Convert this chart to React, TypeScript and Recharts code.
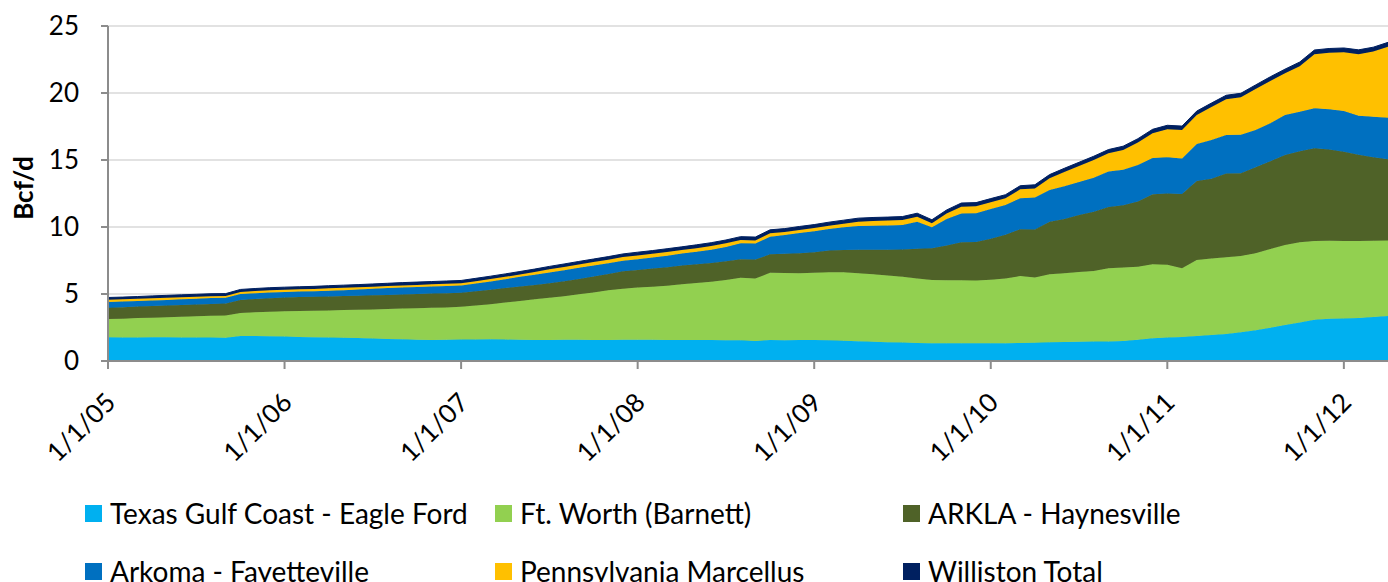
import React from 'react'
import { AreaChart, Area, XAxis, YAxis, CartesianGrid } from 'recharts'

// monthly, Jan 2005 .. Apr 2012
const months: string[] = []
for (let y = 5; y <= 12; y++) {
  for (let m = 1; m <= 12; m++) {
    if (y === 12 && m > 4) break
    months.push(`${m}/1/${String(y).padStart(2, '0')}`)
  }
}

const xTicks = ['1/1/05', '1/1/06', '1/1/07', '1/1/08', '1/1/09', '1/1/10', '1/1/11', '1/1/12']
const yTicks = [0, 5, 10, 15, 20, 25]

const texasGulfCoast = [
  1.77, 1.76, 1.76, 1.77, 1.77, 1.76, 1.76, 1.75, 1.73, 1.87, 1.86, 1.85,
  1.83, 1.80, 1.78, 1.76, 1.74, 1.72, 1.68, 1.65, 1.62, 1.58, 1.57, 1.58,
  1.60, 1.61, 1.62, 1.60, 1.58, 1.57, 1.57, 1.58, 1.58, 1.57, 1.57, 1.58,
  1.58, 1.58, 1.57, 1.56, 1.57, 1.56, 1.55, 1.54, 1.50, 1.56, 1.55, 1.56,
  1.56, 1.54, 1.52, 1.48, 1.44, 1.40, 1.38, 1.35, 1.33, 1.32, 1.32, 1.32,
  1.32, 1.33, 1.35, 1.37, 1.39, 1.41, 1.43, 1.45, 1.46, 1.49, 1.58, 1.70,
  1.75, 1.80, 1.86, 1.94, 2.02, 2.15, 2.30, 2.48, 2.68, 2.88, 3.08, 3.15,
  3.17, 3.20, 3.28, 3.36,
]

const ftWorth = [
  1.36, 1.40, 1.44, 1.46, 1.49, 1.54, 1.58, 1.63, 1.67, 1.71, 1.78, 1.83,
  1.88, 1.93, 1.97, 2.01, 2.06, 2.10, 2.17, 2.23, 2.29, 2.36, 2.40, 2.42,
  2.44, 2.53, 2.62, 2.76, 2.90, 3.03, 3.15, 3.26, 3.40, 3.55, 3.71, 3.82,
  3.90, 3.97, 4.05, 4.16, 4.25, 4.36, 4.49, 4.68, 4.65, 5.02, 5.01, 4.99,
  5.02, 5.08, 5.10, 5.07, 5.04, 4.98, 4.90, 4.80, 4.71, 4.71, 4.70, 4.68,
  4.74, 4.82, 4.99, 4.87, 5.08, 5.14, 5.21, 5.27, 5.46, 5.49, 5.46, 5.52,
  5.44, 5.12, 5.68, 5.70, 5.72, 5.69, 5.75, 5.87, 5.98, 5.98, 5.88, 5.82,
  5.78, 5.76, 5.70, 5.63,
]

const arkla = [
  0.85, 0.86, 0.86, 0.87, 0.88, 0.88, 0.88, 0.88, 0.90, 0.97, 0.98, 1.00,
  1.03, 1.05, 1.05, 1.05, 1.05, 1.05, 1.05, 1.05, 1.05, 1.06, 1.06, 1.06,
  1.06, 1.06, 1.08, 1.08, 1.08, 1.08, 1.08, 1.12, 1.14, 1.18, 1.22, 1.30,
  1.32, 1.35, 1.38, 1.40, 1.40, 1.40, 1.41, 1.38, 1.43, 1.38, 1.44, 1.49,
  1.54, 1.62, 1.66, 1.75, 1.82, 1.92, 2.04, 2.23, 2.37, 2.59, 2.84, 2.88,
  3.07, 3.27, 3.49, 3.58, 3.93, 4.05, 4.26, 4.42, 4.58, 4.64, 4.86, 5.23,
  5.31, 5.54, 5.89, 5.96, 6.26, 6.18, 6.40, 6.55, 6.71, 6.79, 6.91, 6.81,
  6.67, 6.44, 6.22, 6.06,
]

const arkoma = [
  0.42, 0.42, 0.42, 0.42, 0.42, 0.42, 0.43, 0.44, 0.42, 0.45, 0.44, 0.44,
  0.41, 0.40, 0.41, 0.42, 0.43, 0.46, 0.50, 0.52, 0.52, 0.52, 0.53, 0.54,
  0.54, 0.58, 0.62, 0.66, 0.72, 0.76, 0.80, 0.82, 0.83, 0.82, 0.80, 0.78,
  0.80, 0.82, 0.85, 0.90, 0.93, 0.98, 1.05, 1.18, 1.18, 1.32, 1.40, 1.51,
  1.56, 1.61, 1.70, 1.77, 1.80, 1.82, 1.83, 2.02, 1.57, 1.98, 2.14, 2.14,
  2.22, 2.22, 2.31, 2.38, 2.36, 2.45, 2.45, 2.54, 2.65, 2.66, 2.73, 2.70,
  2.70, 2.66, 2.77, 2.90, 2.87, 2.86, 2.79, 2.85, 2.99, 2.95, 2.99, 3.00,
  3.03, 2.90, 3.02, 3.11,
]

const marcellus = [
  0.17, 0.16, 0.16, 0.16, 0.16, 0.16, 0.15, 0.14, 0.13, 0.15, 0.16, 0.16,
  0.17, 0.17, 0.17, 0.18, 0.18, 0.17, 0.15, 0.15, 0.16, 0.16, 0.16, 0.16,
  0.16, 0.18, 0.18, 0.18, 0.18, 0.20, 0.24, 0.24, 0.25, 0.26, 0.26, 0.28,
  0.28, 0.28, 0.29, 0.26, 0.27, 0.28, 0.28, 0.25, 0.24, 0.25, 0.22, 0.23,
  0.24, 0.25, 0.27, 0.33, 0.35, 0.36, 0.37, 0.37, 0.30, 0.40, 0.52, 0.53,
  0.50, 0.50, 0.67, 0.68, 0.87, 1.05, 1.20, 1.32, 1.35, 1.47, 1.67, 1.85,
  2.10, 2.12, 2.16, 2.45, 2.66, 2.80, 3.06, 3.15, 3.11, 3.40, 4.04, 4.22,
  4.39, 4.60, 4.88, 5.29,
]

const williston = [
  0.17, 0.17, 0.17, 0.18, 0.18, 0.18, 0.18, 0.18, 0.18, 0.19, 0.19, 0.19,
  0.19, 0.19, 0.19, 0.20, 0.20, 0.20, 0.20, 0.20, 0.21, 0.21, 0.21, 0.21,
  0.21, 0.21, 0.21, 0.22, 0.22, 0.22, 0.22, 0.22, 0.23, 0.23, 0.23, 0.23,
  0.24, 0.24, 0.24, 0.24, 0.25, 0.25, 0.25, 0.25, 0.25, 0.26, 0.26, 0.26,
  0.26, 0.26, 0.26, 0.26, 0.26, 0.26, 0.26, 0.26, 0.26, 0.27, 0.27, 0.27,
  0.27, 0.27, 0.27, 0.27, 0.28, 0.28, 0.28, 0.28, 0.28, 0.28, 0.29, 0.29,
  0.29, 0.29, 0.29, 0.30, 0.30, 0.30, 0.30, 0.31, 0.31, 0.31, 0.31, 0.32,
  0.32, 0.32, 0.32, 0.33,
]

const series = [
  { key: 'tgc', name: 'Texas Gulf Coast - Eagle Ford', color: '#00B0F0', values: texasGulfCoast },
  { key: 'ftw', name: 'Ft. Worth (Barnett)', color: '#92D050', values: ftWorth },
  { key: 'ark', name: 'ARKLA - Haynesville', color: '#4F6228', values: arkla },
  { key: 'fay', name: 'Arkoma - Fayetteville', color: '#0070C0', values: arkoma },
  { key: 'mar', name: 'Pennsylvania Marcellus', color: '#FFC000', values: marcellus },
  { key: 'wil', name: 'Williston Total', color: '#002060', values: williston },
]

const data = months.map((month, i) => {
  const row: Record<string, string | number> = { month }
  series.forEach(s => { row[s.key] = s.values[i] })
  return row
})

const FONT = 'Lato, "Open Sans", sans-serif'

const XTick = (props: any) => {
  const { x, y, payload } = props
  const ax = x + 2
  const ay = y + 28
  return (
    <text
      x={ax}
      y={ay}
      transform={`rotate(-45 ${ax} ${ay})`}
      textAnchor="end"
      dominantBaseline="central"
      fontSize={26}
      fontFamily={FONT}
      fill="#000"
    >
      {payload.value}
    </text>
  )
}

const legendCols = [85, 495, 903]
const legendRows = [505, 563]

export default function App() {
  return (
    <div style={{ position: 'relative', width: 1388, height: 582, overflow: 'hidden', background: '#fff', fontFamily: FONT }}>
      <style>{'body{margin:0}'}</style>
      <AreaChart
        width={1388}
        height={582}
        data={data}
        margin={{ top: 26, right: 0, left: 0, bottom: 0 }}
      >
        <CartesianGrid vertical={false} stroke="#C6C6C6" strokeWidth={1.2} />
        <XAxis
          dataKey="month"
          ticks={xTicks}
          interval={0}
          height={221}
          tickSize={8}
          tickMargin={0}
          axisLine={{ stroke: '#8C8C8C', strokeWidth: 2 }}
          tickLine={{ stroke: '#8C8C8C', strokeWidth: 2 }}
          tick={<XTick />}
        />
        <YAxis
          width={108}
          domain={[0, 25]}
          ticks={yTicks}
          interval={0}
          tickSize={7}
          tickMargin={22}
          axisLine={{ stroke: '#8C8C8C', strokeWidth: 2 }}
          tickLine={{ stroke: '#8C8C8C', strokeWidth: 2 }}
          tick={{ fill: '#000', fontSize: 26, fontFamily: FONT }}
        />
        {series.map(s => (
          <Area
            key={s.key}
            type="linear"
            dataKey={s.key}
            name={s.name}
            stackId="1"
            stroke={s.color}
            strokeWidth={1}
            fill={s.color}
            fillOpacity={1}
            isAnimationActive={false}
          />
        ))}
      </AreaChart>
      <div
        style={{
          position: 'absolute',
          left: 23,
          top: 188,
          transform: 'translate(-50%, -50%) rotate(-90deg)',
          fontSize: 26,
          fontWeight: 'bold',
          whiteSpace: 'nowrap',
          lineHeight: 1,
        }}
      >
        Bcf/d
      </div>
      {series.map((s, i) => (
        <div
          key={s.key}
          style={{
            position: 'absolute',
            left: legendCols[i % 3],
            top: legendRows[Math.floor(i / 3)],
            display: 'flex',
            alignItems: 'center',
            whiteSpace: 'nowrap',
            fontSize: 28,
            lineHeight: '17px',
          }}
        >
          <span style={{ display: 'inline-block', width: 17, height: 17, background: s.color, marginRight: 8, flexShrink: 0 }} />
          <span>{s.name}</span>
        </div>
      ))}
    </div>
  )
}
